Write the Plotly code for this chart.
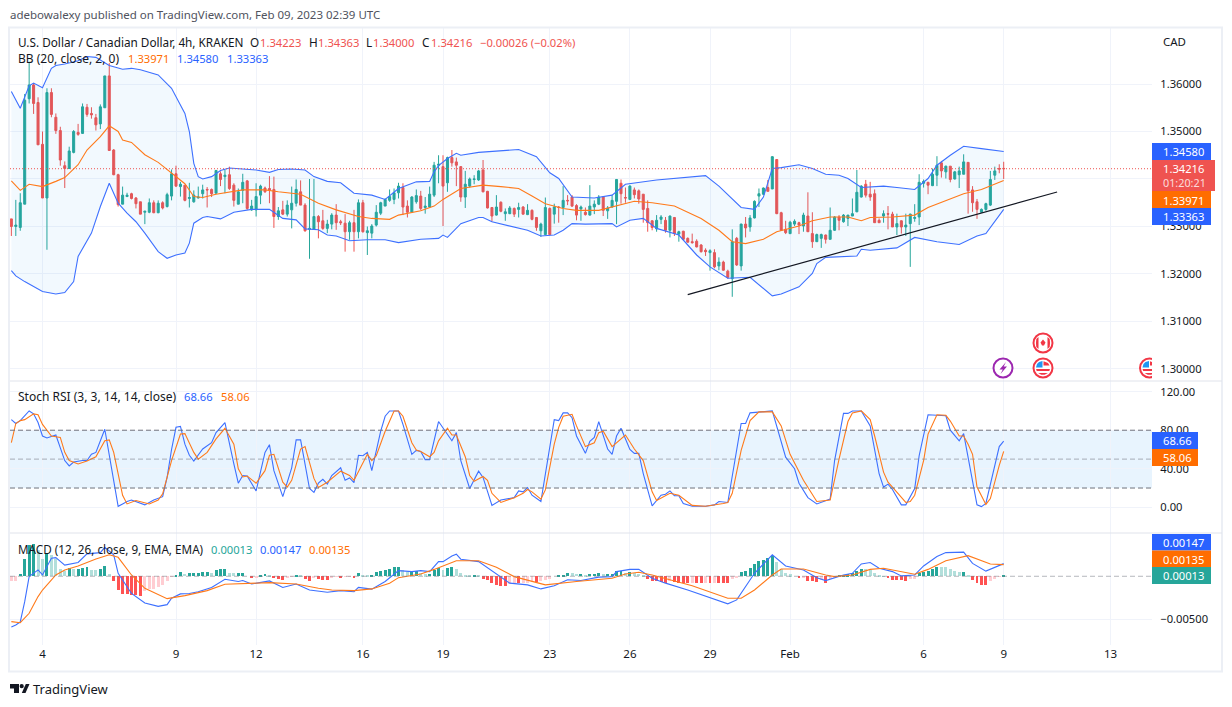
import math
import plotly.graph_objects as go

# Bar numbers count 4-hour bars from Jan 4; prices below are price x 10^4.
first_bar = -7
open_pips = [
13316,13300,13298,13347,13569,13598,13561,13473,13360,13582,
13530,13502,13428,13422,13456,13498,13496,13551,13538,13529,
13516,13550,13617,13461,13409,13347,13363,13369,13360,13352,
13330,13330,13350,13329,13350,13342,13364,13411,13384,13387,
13359,13352,13360,13369,13378,13378,13370,13411,13405,13409,
13387,13347,13376,13396,13335,13335,13366,13381,13380,13378,
13321,13335,13326,13335,13349,13373,13345,13294,13294,13321,
13312,13296,13305,13324,13310,13307,13289,13308,13289,13350,
13287,13286,13303,13328,13343,13355,13357,13371,13382,13343,
13330,13352,13364,13340,13341,13366,13429,13426,13392,13445,
13436,13426,13362,13385,13399,13398,13419,13374,13340,13324,
13351,13327,13327,13338,13336,13341,13325,13334,13319,13291,
13283,13338,13326,13341,13340,13355,13362,13344,13337,13330,
13324,13341,13347,13362,13333,13341,13353,13391,13361,13357,
13377,13375,13368,13338,13312,13295,13315,13313,13292,13319,
13284,13290,13275,13268,13269,13261,13250,13245,13245,13217,
13225,13206,13190,13275,13217,13305,13299,13318,13364,13368,
13382,13379,13441,13329,13294,13285,13305,13308,13301,13322,
13285,13268,13275,13282,13273,13292,13320,13310,13317,13322,
13331,13362,13389,13368,13369,13313,13322,13327,13326,13299,
13312,13299,13306,13317,13320,13391,13393,13386,13408,13434,
13415,13427,13400,13409,13410,13435,13377,13352,13330,13336,
13345,13408,13422,13422.3]
high_pips = [
13316,13356,13370,13579,13647,13602,13572,13500,13591,13591,
13538,13510,13437,13468,13503,13516,13559,13558,13551,13537,
13557,13617,13644,13463,13411,13384,13371,13371,13362,13352,
13333,13359,13355,13355,13353,13371,13420,13428,13394,13387,
13392,13376,13384,13388,13383,13380,13419,13416,13419,13426,
13391,13380,13411,13398,13356,13391,13388,13384,13406,13405,
13341,13354,13355,13384,13399,13397,13349,13400,13400,13324,
13335,13314,13328,13347,13314,13326,13312,13335,13357,13356,
13300,13305,13345,13352,13359,13378,13380,13392,13391,13355,
13364,13378,13375,13362,13384,13436,13450,13450,13447,13461,
13445,13427,13417,13403,13408,13419,13440,13375,13341,13366,
13353,13338,13343,13340,13350,13343,13347,13336,13320,13308,
13361,13340,13348,13343,13385,13366,13366,13347,13344,13340,
13387,13355,13366,13364,13343,13366,13399,13399,13382,13387,
13382,13378,13368,13355,13313,13324,13324,13320,13323,13320,
13291,13291,13277,13285,13273,13263,13254,13252,13252,13235,
13228,13209,13294,13278,13306,13320,13324,13355,13380,13382,
13398,13448,13441,13331,13312,13312,13315,13310,13329,13372,
13330,13285,13285,13283,13340,13322,13324,13326,13324,13359,
13419,13387,13398,13394,13378,13317,13334,13343,13331,13327,
13313,13327,13327,13347,13410,13399,13394,13422,13448,13438,
13428,13427,13417,13426,13452,13435,13385,13358,13338,13350,
13417,13426,13431,13436.3]
low_pips = [
13280,13280,13291,13347,13559,13537,13472,13360,13251,13530,
13495,13428,13381,13422,13454,13491,13495,13531,13527,13502,
13505,13550,13460,13408,13342,13347,13362,13357,13338,13326,
13305,13328,13328,13328,13336,13340,13355,13383,13363,13353,
13340,13350,13359,13359,13340,13362,13370,13385,13370,13377,
13342,13347,13349,13335,13333,13321,13347,13371,13349,13297,
13314,13324,13321,13296,13342,13345,13289,13232,13293,13275,
13293,13286,13294,13293,13303,13247,13272,13247,13275,13287,
13240,13275,13300,13324,13343,13352,13347,13359,13324,13319,
13329,13348,13334,13327,13340,13362,13391,13301,13373,13426,
13385,13352,13339,13382,13389,13396,13372,13338,13310,13323,
13330,13312,13326,13320,13319,13325,13324,13313,13291,13278,
13282,13282,13306,13308,13324,13345,13341,13313,13312,13323,
13323,13326,13345,13322,13316,13340,13305,13348,13350,13357,
13359,13348,13308,13289,13292,13289,13305,13287,13277,13280,
13268,13271,13266,13264,13256,13245,13238,13207,13212,13208,
13207,13190,13152,13217,13207,13277,13289,13317,13341,13366,
13374,13379,13326,13291,13284,13284,13301,13284,13289,13289,
13255,13268,13255,13264,13273,13291,13292,13308,13301,13322,
13330,13361,13361,13354,13308,13308,13308,13294,13299,13282,
13285,13280,13215,13310,13303,13382,13368,13385,13385,13403,
13401,13393,13399,13381,13410,13327,13331,13316,13329,13333,
13343,13398,13412,13400]
close_pips = [
13300,13303,13350,13566,13598,13559,13472,13360,13582,13536,
13502,13440,13422,13459,13500,13494,13552,13536,13535,13514,
13552,13617,13460,13409,13346,13366,13366,13359,13348,13326,
13332,13350,13329,13349,13339,13367,13411,13385,13389,13355,
13361,13366,13362,13377,13377,13369,13418,13399,13408,13380,
13355,13373,13393,13338,13343,13363,13385,13373,13377,13321,
13333,13326,13345,13349,13378,13345,13291,13296,13321,13310,
13296,13305,13324,13308,13308,13289,13308,13289,13350,13289,
13291,13301,13330,13350,13357,13363,13371,13385,13341,13330,
13362,13365,13338,13343,13368,13429,13431,13385,13445,13434,
13429,13362,13389,13400,13400,13417,13373,13339,13322,13341,
13332,13331,13339,13326,13340,13326,13334,13315,13298,13305,
13340,13283,13341,13340,13355,13354,13343,13324,13341,13325,
13343,13347,13362,13334,13339,13355,13399,13369,13360,13385,
13367,13358,13336,13308,13298,13313,13320,13292,13322,13285,
13289,13273,13267,13266,13257,13247,13247,13249,13215,13225,
13208,13193,13268,13219,13305,13297,13318,13353,13369,13381,
13374,13447,13327,13292,13287,13309,13311,13303,13324,13289,
13268,13283,13283,13273,13292,13320,13313,13324,13324,13327,
13372,13385,13366,13362,13308,13308,13327,13326,13299,13306,
13299,13303,13326,13319,13393,13395,13387,13410,13429,13417,
13427,13399,13415,13417,13436,13375,13350,13336,13336,13348,
13399,13417,13421,13421.6]

bb_upper_bar = [-7,-5,-3,-2,0,2,3,5,8,10,12,15,18,20,22,26,29,32,33,34,35,36,38,40,42,48,51,53,56,59,61,64,67,70,74,77,80,
  84,87,88,89,91,93,94,98,107,111,114,116,119,124,128,131,138,149,152,157,160,162,164,166,170,173,176,179,181,184,189,192,196,199,201,204,207,211,216]
bb_upper = [13584,13549,13596,13602,13592,13633,13639,13642,13649,13658,13656,13639,13631,13633,13630,13619,13591,13538,13500,13433,13405,13400,13405,13418,13423,13419,13414,13420,13421,13419,13405,13395,13392,13370,13366,13357,13380,
  13394,13395,13415,13428,13443,13454,13450,13456,13462,13447,13413,13401,13362,13360,13366,13389,13398,13407,13385,13340,13336,13362,13422,13424,13430,13422,13410,13408,13401,13382,13385,13382,13378,13401,13429,13450,13469,13464,13458]
bb_lower_bar = [-7,-6,-4,-2,0,3,5,7,8,11,13,15,17,19,21,23,26,28,30,32,33,34,36,37,40,43,47,51,54,57,59,62,64,66,69,73,77,80,
  85,89,90,91,94,98,99,101,104,109,112,115,117,119,122,128,129,132,135,138,143,147,150,154,159,161,164,166,170,173,174,176,183,184,186,192,196,201,206,210,212,216]
bb_lower = [13207,13196,13184,13173,13163,13158,13161,13184,13237,13286,13342,13391,13349,13328,13310,13286,13247,13233,13240,13244,13265,13307,13319,13321,13316,13330,13336,13336,13317,13314,13295,13293,13282,13280,13270,13272,13272,13266,
  13273,13275,13282,13277,13306,13319,13319,13310,13303,13292,13280,13282,13292,13306,13305,13306,13299,13313,13317,13296,13282,13240,13215,13191,13193,13177,13154,13158,13173,13201,13222,13235,13238,13252,13250,13255,13277,13268,13262,13280,13285,13336]
bb_mid_bar = [-7,-5,-3,0,3,5,8,10,13,15,17,18,20,23,26,29,32,34,36,39,42,45,50,53,58,62,66,71,74,78,80,
  85,88,90,94,99,103,107,110,113,117,120,125,129,133,137,142,148,152,155,158,162,165,170,173,177,181,184,186,191,196,199,204,207,211,213,216]
bb_mid = [13396,13376,13389,13384,13395,13403,13430,13461,13489,13512,13500,13482,13477,13451,13435,13412,13390,13363,13361,13368,13373,13377,13377,13373,13368,13349,13335,13321,13317,13315,13324,
  13333,13343,13357,13380,13387,13384,13380,13364,13348,13338,13334,13334,13343,13353,13350,13343,13317,13292,13268,13264,13273,13289,13301,13312,13320,13320,13312,13319,13320,13324,13340,13359,13369,13378,13385,13397]
trend_bar = [145, 228]
trend_price = [1.31566, 1.33726]
last_price = 1.34216

stoch_k_bar = [-7,-6,-5,-3,-2,-1,0,1,3,4,5,6,7,9,10,11,12,14,15,16,17,18,19,20,21,23,25,27,28,29,30,31,32,33,34,36,38,39,41,42,43,44,45,46,48,50,51,52,54,56,57,58,59,60,61,62,63,64,65,67,68,69,70,71,72,73,74,76,77,78,80,81,83,84,
  85,86,87,89,92,93,94,96,98,99,101,103,106,107,108,109,110,112,115,116,117,118,119,120,122,123,124,125,127,128,129,130,132,133,134,135,137,139,140,141,142,143,144,146,149,151,152,154,157,158,159,161,164,167,169,170,172,174,177,
  178,180,181,182,184,186,188,189,190,191,193,194,196,197,199,203,204,206,207,209,210,211,212,215,216]
stoch_k = [91,87,90,100,97,88,74,72,75,60.5,48.5,43,47,48.5,48.5,55,57,81,55,25,1,3.5,6,7.5,6,2.5,7.5,11,31,60,83,84,65.5,54,48,60.5,67,77.5,88,65.5,45,25,33,32.5,17,57,65,38,11,41,70,70,45,19.5,15.5,25,29,24,33,41,28,30.5,25.5,54,53.5,57,38,79,94.5,100,100,86,55,59,
  58,49.5,49.5,89,69,77.5,48.5,19.5,37.5,31,2,7.5,10,17,16,20.5,12.5,6,91,90,98,98,93,74,56,68.5,72.5,89,60.5,55,74,82,60,56,56,35,1.5,12.5,13.5,17,12,12,4,1,1,2.5,6,5,87,87,98,99,100,52,40,25,10,3.5,8.5,
  48.5,97.5,97.5,100,100,84.5,35,21,24,18.5,2.5,2.5,19.5,53.5,96,95,80,69,76.5,28,2.5,0.7,4,63,68.66]
stoch_d_bar = [-7,-6,-5,-4,-2,-1,0,2,4,5,6,8,10,12,14,15,16,18,19,21,24,26,27,29,31,32,34,35,37,39,41,43,44,45,46,48,50,51,52,54,55,56,58,59,61,62,64,67,69,70,73,74,75,77,79,80,81,83,84,
  85,87,88,89,91,92,93,95,96,97,99,100,101,103,106,108,109,110,112,113,115,116,117,119,120,122,124,125,126,128,131,133,135,137,138,141,143,146,149,153,154,155,157,159,161,164,166,168,171,174,177,
  179,181,182,184,186,187,189,190,191,194,195,196,198,199,201,203,204,206,207,208,209,210,212,213,215,216]
stoch_d = [67,87,90,91,97,96,86,74,72.5,57,48.5,45,48,52.5,69,70,57,12.5,3.5,7,3.5,7.5,14,48.5,76,76.5,57,50,57,71,82,65.5,40,31.5,32.5,25,38,54,55,26,21,28,60.5,63,30,20.5,26,37.5,33,28,55,48.5,53.5,79,100,100,94.5,67,59.5,
  58,52.5,57,69,82,75,75,52.5,33,27,32,28,14.5,5,10,14.5,18.5,16,8.5,18,65.5,83,94.5,96.5,84.5,63,67,77.5,79,63,75,60.5,48.5,16,7,14.5,12.5,2,1,4,5,14.5,59,90,99,99,84.5,55,28,6,7.5,
  50,89,98,100,91,74,36.5,26,21,5,6,12.5,48.5,76,96,95.5,89.5,74,74,65.5,55,21,3,9,43.5,58.06]

# MACD values below are x 10^-4
macd_bar = [-7,-6,-5,-4,-3,-1,0,2,3,5,8,10,13,14,16,17,20,23,26,28,29,31,33,35,38,41,44,45,47,51,54,57,60,64,67,70,71,74,77,80,83,
  85,87,89,90,92,93,94,98,102,105,109,112,115,118,121,125,128,129,132,134,137,140,145,150,154,156,160,164,167,171,174,176,180,182,184,186,188,191,193,196,198,201,203,207,209,212,214,216]
macd_line = [-59,-56.6,-53,-29.5,-0.4,7.4,1.6,21,21.7,13,16,26,27.5,33.7,25,3.5,-20,-31,-35,-33,-25.6,-20.5,-20,-18,-13,-3.5,-6,-5,-9,-5.4,-13,-9,-16,-18.6,-16.7,-18,-13,-15,-6,6.6,5.4,
  6.6,5.4,17,17,23.6,25.6,19.8,17,2.3,-8,-10,-14.7,-11,-4,-5,-1,-0.4,5.4,8,8,-2.3,-8,-16,-24.4,-32,-27.5,3.5,25,12,7.4,-1.6,-5,1.5,3.5,14.3,16,9.3,5.4,0.4,1.5,12,23,27.5,28,15,6,10.5,14.7]
signal_bar = [-7,-5,-3,-1,0,3,5,8,12,15,17,20,23,28,32,37,41,47,51,57,62,65,70,74,78,80,
  85,88,93,98,102,106,113,120,128,131,134,137,146,154,157,160,164,166,171,176,178,182,186,189,193,196,199,203,208,210,213,216]
signal_line = [-52.7,-54,-43,-23.6,-16,1.5,7.4,12,20,25,22,1.5,-14,-26,-22.5,-16.7,-9.3,-8,-7.4,-9,-14,-16,-16.7,-14.7,-8,-1.6,
  2.7,8,18,18,10.5,-0.4,-10,-6,-2.3,2.7,4.6,1.5,-11,-25.6,-25.6,-16,1.5,8.5,8.5,1.5,-0.4,1.5,8,9.3,5.4,2.3,8,18,24,20,14.3,13.5]
hist = [
-6,-5,2.7,20,36,37,30,20,26,25,
20,8,6.6,9.3,8,8.5,10,11,7.4,7,
8,12,2.7,-6,-16,-20.5,-21,-21.5,-21.7,-22.5,
-16.7,-15,-14.5,-12,-10,-6,-0.5,1.5,4.6,2.7,
3.5,3.6,4.3,4.6,4.7,4.3,7.4,8,8.2,4.3,
3.5,3.6,3.7,0,-1.5,-1,2,2.7,2,-1,
-2.7,-4,-1.5,-0.4,1.5,0.8,-3,-5,-1,-3,
-4,-4.2,-1.5,-0.8,-1.5,-0.8,-0.4,-1.5,3.9,2,
1.2,2,4.6,6.6,7.4,9,10.5,11,7.4,5.4,
5.5,6.6,3.5,2.3,2.7,7.4,10,7.4,10,10.2,
8.5,4.3,1.5,0.4,0.8,0.4,-3,-4.3,-7.4,-10,
-11,-11.2,-9.3,-8,-8.2,-8,-7.4,-7,-7.2,-6,
-4.3,-2.7,0,0.8,2,4,3.5,2.7,2.8,1.5,
2.7,3,4.3,2.7,2.8,3,6,6.2,3.5,5.4,
3.5,2.7,1.2,-3,-5,-6,-6.2,-8,-6,-6.2,
-7.4,-8,-8.2,-7.4,-7.5,-8,-7.4,-8,-7.4,-8,
-8.2,-8.4,-3,-1,5,6.6,10,14,18,19,
21,23,17,8,4,2.3,0,-2,-1.2,-5,
-6,-6.2,-4,-7.4,-3,-1.5,0.4,1.5,2.3,3.5,
6.6,8.5,8,7.4,3.5,0.8,0.2,-2,-4.3,-4.4,
-4.5,-5,-3.5,-2.7,3.5,5.4,6.6,8,11,10.8,
10.6,8,6.6,4.8,5,1.5,-4.3,-7.4,-9.7,-9.8,
-6,-3,-0.4,1.3]

time_tick_bar = [0,30,48,72,90,114,132,150,168,198,216,240]
time_tick_label = ["4","9","12","16","19","23","26","29","Feb","6","9","13"]
price_ticks = [1.30,1.31,1.32,1.33,1.34,1.35,1.36]
stoch_ticks = [0,40,80,120]
macd_ticks = [-0.005]
macd_tick_label = ["\u22120.00500"]

FONT = "Noto Sans"
UP, DOWN = "#26a69a", "#ef5350"
BLUE, ORANGE = "#2962ff", "#ff6d00"
LINE_BLUE, LINE_ORANGE = "#3d70ff", "#ff7a1a"
TEXT = "#131722"
GRID = "#f0f3fa"
W, H = 1232, 707
L, R = 10, 1152
def xp(x): return x / W
def yp(y): return 1 - y / H

bars = list(range(first_bar, first_bar + len(close_pips)))
xrange_ = [(L - 42.5) / 4.45, (R - 42.5) / 4.45]
def pr(v): return [p / 10000 for p in v]
def m4(v): return [p / 10000 for p in v]

fig = go.Figure()
fig.add_trace(go.Candlestick(x=bars, open=pr(open_pips), high=pr(high_pips), low=pr(low_pips), close=pr(close_pips),
    increasing=dict(line=dict(color=UP, width=1), fillcolor=UP),
    decreasing=dict(line=dict(color=DOWN, width=1), fillcolor=DOWN),
    whiskerwidth=0, showlegend=False, xaxis="x", yaxis="y"))
fig.add_trace(go.Scatter(x=bb_lower_bar, y=pr(bb_lower), mode="lines", line=dict(color=LINE_BLUE, width=1.1), xaxis="x", yaxis="y"))
fig.add_trace(go.Scatter(x=bb_upper_bar, y=pr(bb_upper), mode="lines", line=dict(color=LINE_BLUE, width=1.1), fill="tonexty",
                         fillcolor="rgba(33,150,243,0.06)", xaxis="x", yaxis="y"))
fig.add_trace(go.Scatter(x=bb_mid_bar, y=pr(bb_mid), mode="lines", line=dict(color=LINE_ORANGE, width=1.1), xaxis="x", yaxis="y"))
fig.add_trace(go.Scatter(x=trend_bar, y=trend_price, mode="lines", line=dict(color="#131722", width=1.2), xaxis="x", yaxis="y"))

fig.add_trace(go.Scatter(x=stoch_k_bar, y=stoch_k, mode="lines", line=dict(color=LINE_BLUE, width=1.1), xaxis="x2", yaxis="y2"))
fig.add_trace(go.Scatter(x=stoch_d_bar, y=stoch_d, mode="lines", line=dict(color=LINE_ORANGE, width=1.1), xaxis="x2", yaxis="y2"))

hist_colors = []
for n, h in enumerate(hist):
    prev = hist[n - 1] if n else h
    if h >= 0:
        hist_colors.append(UP if h >= prev else "#b2dfdb")
    else:
        hist_colors.append("#ff5252" if h < prev else "#ffcdd2")
fig.add_trace(go.Bar(x=bars, y=m4(hist), marker=dict(color=hist_colors, line=dict(width=0)), width=0.66, xaxis="x3", yaxis="y3"))
fig.add_trace(go.Scatter(x=macd_bar, y=m4(macd_line), mode="lines", line=dict(color=LINE_BLUE, width=1.1), xaxis="x3", yaxis="y3"))
fig.add_trace(go.Scatter(x=signal_bar, y=m4(signal_line), mode="lines", line=dict(color=LINE_ORANGE, width=1.1), xaxis="x3", yaxis="y3"))

shapes = []
def rect(x0, y0, x1, y1, fill=None, line=None, lw=0, layer="above"):
    shapes.append(dict(type="rect", xref="paper", yref="paper", x0=xp(x0), x1=xp(x1), y0=yp(y0), y1=yp(y1),
                       fillcolor=fill, line=dict(color=line, width=lw), layer=layer))
def circle(cx, cy, r, fill=None, line=None, lw=0):
    shapes.append(dict(type="circle", xref="paper", yref="paper", x0=xp(cx - r), x1=xp(cx + r), y0=yp(cy - r), y1=yp(cy + r),
                       fillcolor=fill, line=dict(color=line, width=lw), layer="above"))
def poly(pts, fill):
    d = "M" + " L".join(f"{xp(x):.5f},{yp(y):.5f}" for x, y in pts) + " Z"
    shapes.append(dict(type="path", xref="paper", yref="paper", path=d, fillcolor=fill, line=dict(width=0), layer="above"))
def seg(cx, cy, r, y0, y1, fill):
    a0 = math.sqrt(max(r*r - y0*y0, 0)); a1 = math.sqrt(max(r*r - y1*y1, 0))
    poly([(cx - a0, cy + y0), (cx + a0, cy + y0), (cx + a1, cy + y1), (cx - a1, cy + y1)], fill)

# pane furniture
shapes.append(dict(type="rect", xref="paper", yref="y2", x0=xp(L), x1=xp(R), y0=20, y1=80,
                   fillcolor="rgba(33,150,243,0.1)", line=dict(width=0), layer="below"))
for lvl, col in [(80, "#6f727d"), (50, "rgba(120,123,134,0.6)"), (20, "#6f727d")]:
    shapes.append(dict(type="line", xref="paper", yref="y2", x0=xp(L), x1=xp(R), y0=lvl, y1=lvl,
                       line=dict(color=col, width=1, dash="5px,3px"), layer="above"))
shapes.append(dict(type="line", xref="paper", yref="y3", x0=xp(L), x1=xp(R), y0=0, y1=0,
                   line=dict(color="rgba(120,123,134,0.55)", width=1, dash="5px,3px"), layer="above"))
shapes.append(dict(type="line", xref="paper", yref="y", x0=xp(L), x1=xp(R), y0=last_price, y1=last_price,
                   line=dict(color=DOWN, width=1, dash="1px,2px"), layer="above"))

# event icons
circle(1003, 368, 9.5, "#fff", "#9c27b0", 2)
poly([(1006, 362), (999.5, 369.5), (1002.8, 369.5), (1000.5, 374), (1007, 366.5), (1003.7, 366.5)], "#9c27b0")

def us_flag(cx, cy):
    circle(cx, cy, 9.5, "#fff", "#f23645", 2)
    seg(cx, cy, 7, 1, 3, "#f23645")
    seg(cx, cy, 7, 5, 6.8, "#f23645")
    poly([(cx + .5, cy - 6.8), (cx + 5, cy - 5), (cx + 6.6, cy - 2.5), (cx + .5, cy - 2.5)], "#f23645")
    poly([(cx - .5, cy - 7), (cx - 4, cy - 6), (cx - 6, cy - 4), (cx - 7, cy - .5), (cx - .5, cy - .5)], "#2196f3")
us_flag(1043, 368)
us_flag(1149.5, 368)
rect(R, 355, 1160, 380, "#ffffff")

circle(1043, 343, 9.5, "#fff", "#f23645", 2)
poly([(1036.3, 339), (1038.5, 337), (1038.5, 349), (1036.3, 347), (1036, 343)], "#f23645")
poly([(1049.7, 339), (1047.5, 337), (1047.5, 349), (1049.7, 347), (1050, 343)], "#f23645")
poly([(1043, 339.5), (1045.5, 342.5), (1044, 345.5), (1042, 345.5), (1040.5, 342.5)], "#f23645")

# chart frame and pane dividers
rect(9, 27.5, 1222, 671.5, None, "#eceff5", 2)
for y in (381, 533):
    shapes.append(dict(type="line", xref="paper", yref="paper", x0=xp(L), x1=xp(1222), y0=yp(y), y1=yp(y),
                       line=dict(color="#e0e3eb", width=1), layer="above"))

# logo
poly([(10, 684), (19, 684), (19, 693), (14, 693), (14, 688.5), (10, 688.5)], "#131722")
circle(21.7, 686.2, 2.1, "#131722", "#131722", 0)
poly([(25.8, 684), (29.5, 684), (25.5, 693), (21.8, 693)], "#131722")

# price and indicator tags on the right scale
rect(R, 143, 1211, 160, BLUE)
rect(R, 160, 1215, 191, DOWN)
rect(R, 191, 1211, 208, ORANGE)
rect(R, 208, 1211, 225, BLUE)
rect(R, 432, 1198, 449, BLUE)
rect(R, 449, 1198, 466, ORANGE)
rect(R, 534, 1211, 550.5, BLUE)
rect(R, 550.5, 1211, 567, ORANGE)
rect(R, 567, 1211, 584, UP)

anns = []
def label(x, y, text, size=12, color=TEXT):
    anns.append(dict(xref="paper", yref="paper", x=xp(x), y=yp(y), text=text, showarrow=False, xanchor="left", yanchor="middle",
                     align="left", font=dict(family=FONT, size=size, color=color), borderpad=0, borderwidth=0))

VAL = 11.2
label(10, 15, "adebowalexy published on TradingView.com, Feb 09, 2023 02:39 UTC", 11.5, "#50535e")
red = DOWN
label(18, 42, "U.S. Dollar / Canadian Dollar, 4h, KRAKEN", 11.75)
label(250, 42, "O", 11.75); label(259.5, 42, "1.34223", VAL, red)
label(309, 42, "H", 11.75); label(318, 42, "1.34363", VAL, red)
label(366, 42, "L", 11.75); label(373, 42, "1.34000", VAL, red)
label(422, 42, "C", 11.75); label(431, 42, "1.34216", VAL, red)
label(480, 42, "\u22120.00026 (\u22120.02%)", VAL, red)
label(18, 59, "BB (20, close, 2, 0)", 12)
label(128, 59, "1.33971", VAL, ORANGE); label(177, 59, "1.34580", VAL, BLUE); label(227, 59, "1.33363", VAL, BLUE)
label(18, 397, "Stoch RSI (3, 3, 14, 14, close)", 12)
label(184, 397, "68.66", VAL, BLUE); label(221, 397, "58.06", VAL, ORANGE)
label(18, 549, "MACD (12, 26, close, 9, EMA, EMA)", 11.7)
label(211, 549, "0.00013", VAL, UP); label(260, 549, "0.00147", VAL, BLUE); label(309, 549, "0.00135", VAL, ORANGE)
label(1163, 41, "CAD", 11.5)
label(33, 689, "TradingView", 13)

for y, text in [(151.5, "1.34580"), (200, "1.33971"), (216.5, "1.33363"), (542.5, "0.00147"), (559, "0.00135"), (575.5, "0.00013")]:
    label(1162.5, y, text, VAL, "#ffffff")
label(1162.5, 168.5, "1.34216", VAL, "#ffffff")
label(1162.5, 183, "01:20:21", VAL - 0.4, "rgba(255,255,255,0.8)")
label(1162.5, 440.5, "68.66", VAL, "#ffffff")
label(1162.5, 457.5, "58.06", VAL, "#ffffff")

xdom = [xp(L), xp(R)]
def xaxis(anchor, labels=False):
    return dict(domain=xdom, range=xrange_, anchor=anchor, showgrid=True, gridcolor=GRID, gridwidth=1, zeroline=False, showline=False,
                tickmode="array", tickvals=time_tick_bar, ticktext=time_tick_label if labels else [""] * len(time_tick_bar),
                ticks="", showticklabels=labels, tickfont=dict(family=FONT, size=11.5, color=TEXT), rangeslider=dict(visible=False))
def yaxis(top, bottom, rng, vals, text, anchor):
    return dict(domain=[yp(bottom), yp(top)], range=rng, anchor=anchor, side="right", showgrid=True, gridcolor=GRID, zeroline=False,
                showline=False, tickmode="array", tickvals=vals, ticktext=text, ticks="outside", ticklen=5, tickcolor="rgba(0,0,0,0)",
                tickfont=dict(family=FONT, size=11.2, color=TEXT))

# the 1.34000 level sits behind the last-price tag in the reference: keep its gridline, blank its label
price_text = ["" if v == 1.34 else f"{v:.5f}" for v in price_ticks]

fig.update_layout(
    width=W, height=H, margin=dict(l=0, r=0, t=0, b=0), autosize=False,
    paper_bgcolor="#ffffff", plot_bgcolor="#ffffff", showlegend=False, bargap=0, boxgap=0.35, hovermode=False,
    xaxis=xaxis("y"), xaxis2=xaxis("y2"), xaxis3=xaxis("y3", True),
    yaxis=yaxis(28, 381, [1.29747, 1.37179], price_ticks, price_text, "x"),
    yaxis2=yaxis(381, 533, [-26.7, 131.1], stoch_ticks, [f"{v:.2f}" for v in stoch_ticks], "x2"),
    yaxis3=yaxis(533, 645, [-0.00799, 0.00503], macd_ticks, macd_tick_label, "x3"),
    shapes=shapes, annotations=anns,
)
fig.write_html("out.html", config=dict(displayModeBar=False), post_script="document.body.style.margin='0';")
